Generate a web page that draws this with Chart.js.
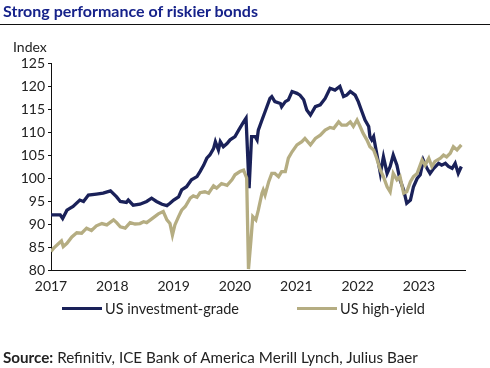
<!DOCTYPE html>
<html lang="en">
<head>
    <meta charset="UTF-8">
    <title>Strong performance of riskier bonds</title>
    <script src="https://cdn.jsdelivr.net/npm/chart.js"></script>
    <style>
        body { margin: 0; width: 490px; height: 368px; position: relative; background: #fff; font-family: Lato, "Open Sans", sans-serif; color: #222; overflow: hidden; }
        #titulo { position: absolute; left: 3px; top: 1px; font-size: 16px; font-weight: bold; color: #16228a; }
        #regua { position: absolute; left: 0; top: 24px; width: 490px; height: 0; border-top: 1.5px solid #111; }
        #unidade { position: absolute; left: 13px; top: 38px; font-size: 14px; }
        #wrap { position: absolute; left: 0; top: 0; width: 490px; height: 368px; }
        .leg { position: absolute; top: 300px; font-size: 14.5px; display: flex; align-items: center; }
        .leg span.linha { display: inline-block; width: 40px; height: 3px; margin-right: 3px; }
        #fonte { position: absolute; left: 3px; top: 348px; font-size: 15.2px; }
    </style>
</head>
<body>
    <div id="wrap"><canvas id="grafico" width="490" height="368"></canvas></div>
    <div id="titulo">Strong performance of riskier bonds</div>
    <div id="regua"></div>
    <div id="unidade">Index</div>
    <div class="leg" style="left:62px"><span class="linha" style="background:#1a2159"></span>US investment-grade</div>
    <div class="leg" style="left:297px"><span class="linha" style="background:#b5ad82"></span>US high-yield</div>
    <div id="fonte"><b>Source:</b> Refinitiv, ICE Bank of America Merill Lynch, Julius Baer</div>

    <script>
        // eixo
        var yearTicks = [2017, 2018, 2019, 2020, 2021, 2022, 2023];
        var yTicks = [80, 85, 90, 95, 100, 105, 110, 115, 120, 125];

        // US investment-grade (ano decimal, indice)
        var igYears = [2017.00, 2017.15, 2017.19, 2017.26, 2017.36, 2017.47, 2017.53, 2017.61, 2017.74, 2017.85, 2017.97,
            2018.07, 2018.13, 2018.23, 2018.26, 2018.34, 2018.45, 2018.56, 2018.64, 2018.72, 2018.81, 2018.89, 2018.94,
            2019.00, 2019.08, 2019.13, 2019.21, 2019.29, 2019.38, 2019.43, 2019.49, 2019.54, 2019.59, 2019.65, 2019.68,
            2019.73, 2019.76, 2019.81, 2019.87, 2019.92, 2020.00, 2020.06, 2020.14, 2020.18, 2020.23, 2020.27, 2020.33,
            2020.36, 2020.38, 2020.44, 2020.49, 2020.57, 2020.60, 2020.65, 2020.74, 2020.76, 2020.82, 2020.87, 2020.93,
            2021.01, 2021.06, 2021.12, 2021.17, 2021.23, 2021.31, 2021.39, 2021.47, 2021.55, 2021.63, 2021.71, 2021.77,
            2021.82, 2021.88, 2021.96, 2022.01, 2022.07, 2022.12, 2022.18, 2022.20, 2022.23, 2022.26, 2022.29, 2022.34,
            2022.37, 2022.42, 2022.48, 2022.53, 2022.58, 2022.64, 2022.69, 2022.75, 2022.80, 2022.86, 2022.91, 2022.97,
            2023.02, 2023.07, 2023.13, 2023.18, 2023.24, 2023.32, 2023.37, 2023.43, 2023.48, 2023.54, 2023.59, 2023.64, 2023.69];
        var igValues = [92.0, 92.0, 91.2, 93.0, 93.8, 95.2, 94.9, 96.3, 96.5, 96.7, 97.2,
            95.9, 94.9, 94.7, 95.2, 94.1, 94.3, 94.9, 95.6, 94.9, 94.3, 94.0, 94.5,
            95.2, 95.9, 97.4, 98.1, 99.6, 100.3, 101.4, 102.8, 104.3, 105.0, 106.4, 107.9,
            106.1, 107.9, 106.8, 107.5, 108.3, 109.0, 110.4, 112.2, 113.0, 97.8, 109.0, 109.0,
            108.3, 110.4, 112.6, 114.4, 117.3, 117.7, 116.6, 116.2, 115.5, 116.6, 117.0, 118.8,
            118.4, 118.0, 117.0, 114.8, 113.7, 115.5, 115.9, 117.3, 119.5, 119.1, 119.9, 117.7,
            118.0, 118.8, 118.0, 116.6, 114.4, 112.6, 111.2, 109.0, 108.3, 109.0, 106.8, 103.2,
            101.0, 104.6, 101.0, 102.5, 105.0, 102.8, 99.6, 97.4, 94.5, 95.2, 98.1, 99.9,
            100.7, 103.9, 102.1, 101.0, 102.1, 103.2, 102.8, 103.2, 102.5, 102.1, 103.2, 101.0, 102.5];

        // US high-yield
        var hyYears = [2017.00, 2017.04, 2017.12, 2017.17, 2017.20, 2017.26, 2017.34, 2017.42, 2017.50, 2017.58, 2017.66,
            2017.74, 2017.83, 2017.91, 2018.02, 2018.07, 2018.13, 2018.21, 2018.29, 2018.37, 2018.45, 2018.51, 2018.56,
            2018.67, 2018.75, 2018.83, 2018.89, 2018.94, 2018.98, 2019.02, 2019.08, 2019.13, 2019.19, 2019.27, 2019.32,
            2019.38, 2019.43, 2019.51, 2019.57, 2019.65, 2019.70, 2019.78, 2019.87, 2019.95, 2020.00, 2020.08, 2020.14,
            2020.19, 2020.22, 2020.26, 2020.29, 2020.34, 2020.38, 2020.44, 2020.46, 2020.49, 2020.55, 2020.60, 2020.65,
            2020.71, 2020.76, 2020.82, 2020.87, 2020.93, 2021.01, 2021.09, 2021.14, 2021.23, 2021.31, 2021.39, 2021.47,
            2021.55, 2021.61, 2021.69, 2021.74, 2021.82, 2021.88, 2021.93, 2021.99, 2022.04, 2022.09, 2022.15, 2022.20,
            2022.26, 2022.31, 2022.37, 2022.42, 2022.48, 2022.53, 2022.58, 2022.64, 2022.69, 2022.75, 2022.80, 2022.86,
            2022.91, 2022.97, 2023.05, 2023.10, 2023.16, 2023.21, 2023.26, 2023.35, 2023.40, 2023.45, 2023.51, 2023.56,
            2023.62, 2023.69];
        var hyValues = [84.0, 84.7, 85.7, 86.3, 85.1, 85.8, 87.2, 88.1, 88.0, 89.1, 88.6,
            89.6, 90.1, 89.8, 90.9, 90.3, 89.4, 89.1, 90.3, 90.0, 90.1, 90.5, 90.3,
            91.4, 92.2, 92.7, 90.9, 90.1, 87.6, 89.8, 91.6, 93.0, 93.8, 95.6, 96.1,
            95.8, 96.8, 97.0, 96.7, 98.3, 97.8, 98.8, 98.4, 99.6, 100.7, 101.4, 101.7,
            100.0, 80.2, 86.5, 91.6, 90.9, 93.0, 96.7, 97.4, 96.3, 99.2, 101.0, 101.0,
            100.3, 101.4, 101.4, 104.3, 105.7, 107.2, 107.9, 108.6, 107.2, 108.6, 109.3, 110.4,
            111.0, 110.8, 112.2, 111.5, 111.5, 112.2, 111.2, 112.6, 111.2, 109.7, 108.3, 106.8,
            106.1, 104.3, 101.7, 100.3, 98.1, 97.0, 101.0, 99.6, 100.3, 96.7, 97.0, 99.2,
            100.3, 101.0, 103.9, 102.8, 104.3, 102.5, 103.6, 104.3, 105.0, 104.6, 105.4, 106.8,
            106.1, 107.2];

        function pares(xs, ys) {
            return xs.map(function (x, i) { return { x: x, y: ys[i] }; });
        }

        var ctx = document.getElementById("grafico").getContext("2d");
        var grafico = new Chart(ctx, {
            type: "line",
            data: {
                datasets: [{
                    label: "US investment-grade",
                    data: pares(igYears, igValues),
                    borderColor: "#1a2159",
                    borderWidth: 3.3,
                    pointRadius: 0,
                    order: 2
                }, {
                    label: "US high-yield",
                    data: pares(hyYears, hyValues),
                    borderColor: "#b5ad82",
                    borderWidth: 3.3,
                    pointRadius: 0,
                    order: 1
                }]
            },
            options: {
                responsive: false,
                animation: false,
                layout: { padding: { top: 63, right: 25, left: 0, bottom: 0 } },
                plugins: { legend: { display: false }, tooltip: { enabled: false } },
                scales: {
                    x: {
                        type: "linear",
                        min: 2017,
                        max: 2023.75,
                        afterBuildTicks: function (s) { s.ticks = yearTicks.map(function (v) { return { value: v }; }); },
                        afterFit: function (s) { s.height = 98; },
                        grid: { display: false, drawOnChartArea: false, drawTicks: true, tickLength: 4, color: "#111" },
                        border: { color: "#111", width: 1 },
                        ticks: { color: "#222", font: { family: "Lato", size: 14 }, padding: 4, maxRotation: 0,
                            callback: function (v) { return String(v); } }
                    },
                    y: {
                        min: 80,
                        max: 125,
                        afterBuildTicks: function (s) { s.ticks = yTicks.map(function (v) { return { value: v }; }); },
                        afterFit: function (s) { s.width = 51; },
                        grid: { display: true, drawOnChartArea: false, tickLength: 3, color: "#111" },
                        border: { color: "#111", width: 1 },
                        ticks: { color: "#222", font: { family: "Lato", size: 14 }, padding: 3 }
                    }
                }
            }
        });
    </script>
</body>
</html>
